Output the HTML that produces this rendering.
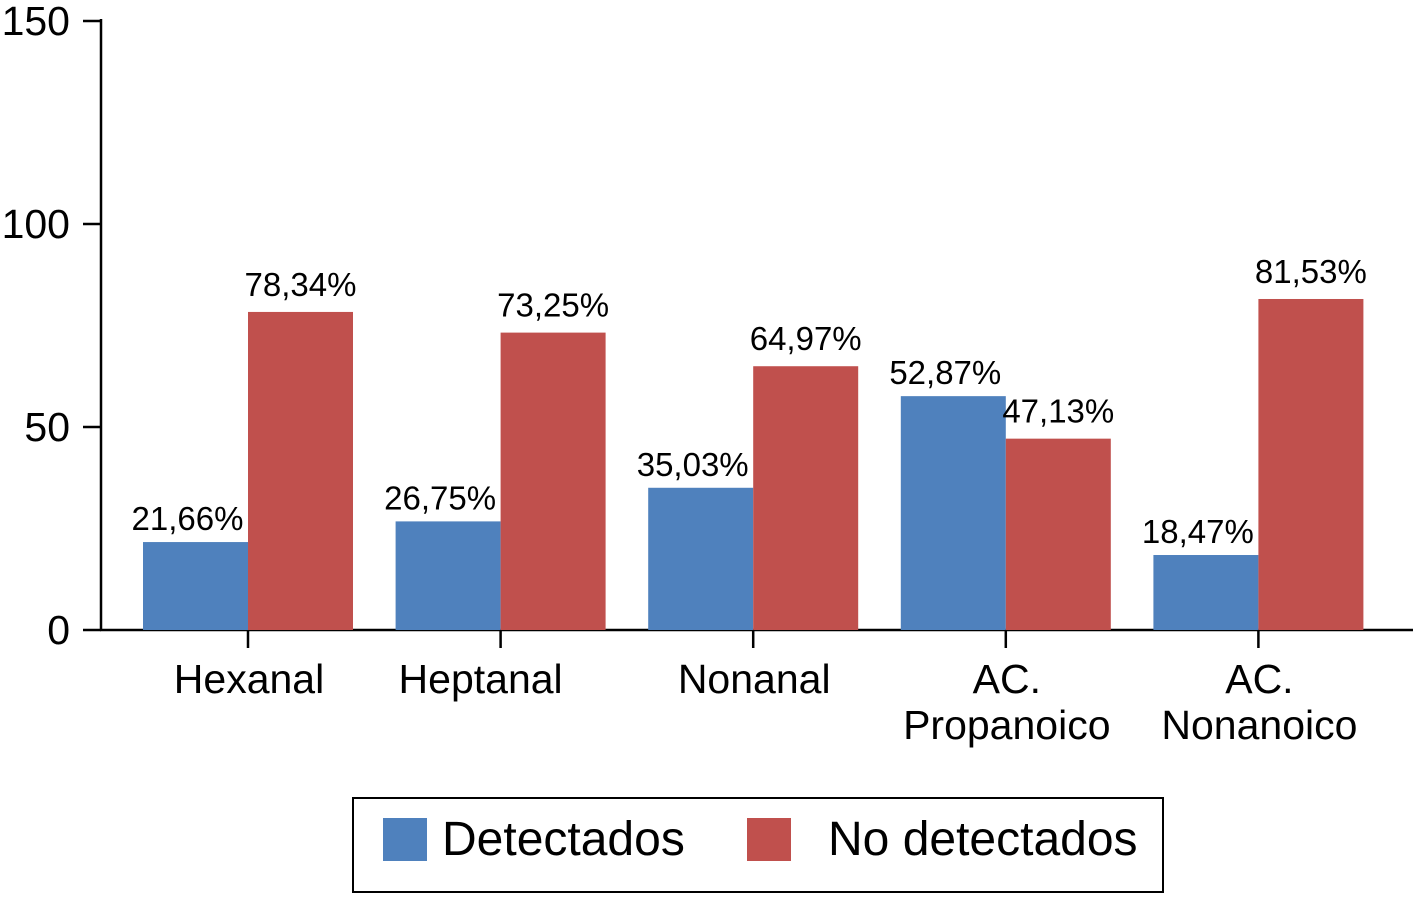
<!DOCTYPE html>
<html><head><meta charset="utf-8"><style>
body{margin:0;background:#fff;}
svg text{font-family:"Liberation Sans",Arial,sans-serif;fill:#000;}
</style></head><body>
<svg id="chart" width="1413" height="895" viewBox="0 0 1413 895" xmlns="http://www.w3.org/2000/svg">
<g id="axes"></g><g id="bars"></g>
<g>
<rect x="353" y="798" width="810" height="94" fill="#fff" stroke="#000" stroke-width="2"/>
<rect x="383" y="818" width="44" height="43" fill="#4f81bd"/>
<text x="442" y="855" font-size="48">Detectados</text>
<rect x="747" y="818" width="44" height="43" fill="#c0504d"/>
<text x="828" y="855" font-size="48">No detectados</text>
</g>
</svg>
<script>
const categories=[["Hexanal"],["Heptanal"],["Nonanal"],["AC.","Propanoico"],["AC.","Nonanoico"]];
const detected=[21.66,26.75,35.03,57.6,18.47];
const notDetected=[78.34,73.25,64.97,47.13,81.53];
const detectedLabels=["21,66%","26,75%","35,03%","52,87%","18,47%"];
const notDetectedLabels=["78,34%","73,25%","64,97%","47,13%","81,53%"];
const yTicks=[0,50,100,150];

const NS="http://www.w3.org/2000/svg";
function y(v){return 630-v*4.06;}
function cx(i){return 248+i*252.6;}
const labelShift=[1,-20,1,1,1];
const BW=105;
function el(tag,attrs,parent,txt){const e=document.createElementNS(NS,tag);for(const k in attrs)e.setAttribute(k,attrs[k]);if(txt!==undefined)e.textContent=txt;parent.appendChild(e);return e;}
const axes=document.getElementById('axes'),bars=document.getElementById('bars');
let a=el('line',{x1:101,y1:19,x2:101,y2:631,stroke:'#000','stroke-width':2.5},axes);


a=el('line',{x1:100,y1:630,x2:1413,y2:630,stroke:'#000','stroke-width':2.5},axes);


yTicks.forEach(t=>{
 let l=el('line',{x1:83,y1:y(t),x2:101,y2:y(t),stroke:'#000','stroke-width':2.5},axes);
 
 
 let tx=el('text',{x:70,y:y(t)+14,'font-size':41,'text-anchor':'end'},axes,String(t));
 
 
});
categories.forEach((c,i)=>{
 const x=cx(i);
 let l=el('line',{x1:x,y1:630,x2:x,y2:648,stroke:'#000','stroke-width':2.5},axes);
 
 
 c.forEach((s,j)=>{
  let tx=el('text',{x:x+labelShift[i],y:693+j*46,'font-size':41,'text-anchor':'middle'},axes,s);
  
  
 });
 let b=el('rect',{x:x-BW,y:y(detected[i]),width:BW,height:630-y(detected[i]),fill:'#4f81bd'},bars);
 
 
 let r=el('rect',{x:x,y:y(notDetected[i]),width:BW,height:630-y(notDetected[i]),fill:'#c0504d'},bars);
 
 
 let t1=el('text',{x:x-BW/2-8,y:y(detected[i])-12,'font-size':33,'text-anchor':'middle'},bars,detectedLabels[i]);
 
 
 let t2=el('text',{x:x+BW/2+0,y:y(notDetected[i])-16,'font-size':33,'text-anchor':'middle'},bars,notDetectedLabels[i]);
 
 
});
</script>
</body></html>
